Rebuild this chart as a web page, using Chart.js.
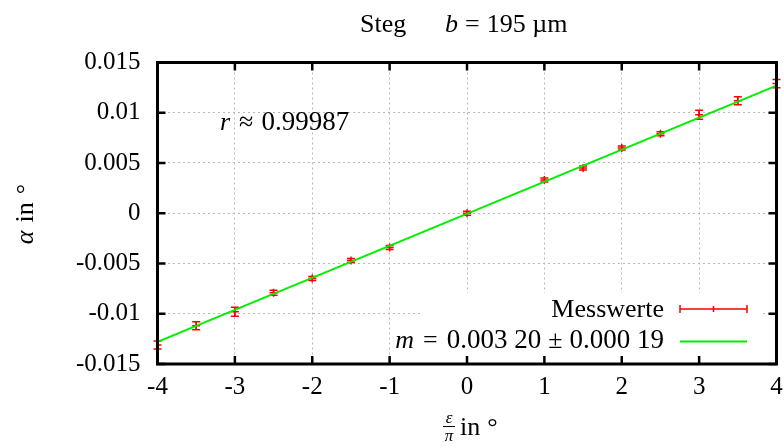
<!DOCTYPE html>
<html>
<head>
<meta charset="utf-8">
<script src="https://cdn.jsdelivr.net/npm/chart.js@4.4.0/dist/chart.umd.min.js"></script>
<style>
  html, body { margin: 0; padding: 0; background: #fff; }
</style>
</head>
<body>
<canvas id="chart" width="784" height="446"></canvas>
<script>
// measured values (x in eps/pi, y in alpha)
const xValues = [-4, -3.5, -3, -2.5, -2, -1.5, -1, 0, 1, 1.5, 2, 2.5, 3, 3.5, 4];
const yValues = [-0.0131, -0.0112, -0.0098, -0.0079, -0.0065, -0.0047, -0.0034, 0.0000, 0.0033, 0.0045, 0.0065, 0.0079, 0.0098, 0.0112, 0.0129];
const yErrors = [0.0004, 0.0004, 0.00045, 0.00025, 0.0002, 0.0002, 0.0002, 0.0002, 0.0002, 0.0002, 0.0002, 0.0002, 0.00045, 0.0004, 0.0004];

// linear fit
const fitX = [-4, 4];
const fitY = [-0.0128, 0.0127];

const xTicks = [-4, -3, -2, -1, 0, 1, 2, 3, 4];
const yTicks = [-0.015, -0.01, -0.005, 0, 0.005, 0.01, 0.015];
const yTickLabels = ['-0.015', '-0.01', '-0.005', '0', '0.005', '0.01', '0.015'];

const FONT = "'Liberation Serif', 'DejaVu Serif', serif";

function font(size, italic) {
    return (italic ? 'italic ' : '') + size + 'px ' + FONT;
}

// draws a row of text pieces, some italic
function drawRuns(ctx, runs, x, y, align) {
    let total = 0;
    runs.forEach(r => {
        ctx.font = font(r.size || 25, r.italic);
        r.w = ctx.measureText(r.t).width;
        total += r.w + (r.gap || 0);
    });
    let cx = align === 'right' ? x - total : (align === 'center' ? x - total / 2 : x);
    ctx.textAlign = 'left';
    ctx.textBaseline = 'alphabetic';
    runs.forEach(r => {
        ctx.font = font(r.size || 25, r.italic);
        ctx.fillText(r.t, cx, y);
        cx += r.w + (r.gap || 0);
    });
}

const legendBox = {
    beforeDatasetsDraw(chart) {
        const ctx = chart.ctx;
        ctx.save();
        ctx.fillStyle = '#fff';
        ctx.fillRect(423, 293, 337, 71);
        ctx.restore();
    }
};

const errorBars = {
    afterDatasetDraw(chart, args) {
        if (args.index !== 1) return;
        const ctx = chart.ctx;
        const xs = chart.scales.x, ys = chart.scales.y;
        ctx.save();
        ctx.strokeStyle = '#ff0000';
        ctx.lineWidth = 1.5;
        xValues.forEach((xv, i) => {
            const px = xs.getPixelForValue(xv);
            const top = ys.getPixelForValue(yValues[i] + yErrors[i]);
            const bot = ys.getPixelForValue(yValues[i] - yErrors[i]);
            ctx.beginPath();
            ctx.moveTo(px, top); ctx.lineTo(px, bot);
            ctx.moveTo(px - 4, top); ctx.lineTo(px + 4, top);
            ctx.moveTo(px - 4, bot); ctx.lineTo(px + 4, bot);
            ctx.stroke();
        });
        ctx.restore();
    }
};

const frameAndText = {
    afterDraw(chart) {
        const ctx = chart.ctx;
        const a = chart.chartArea;
        const xs = chart.scales.x, ys = chart.scales.y;
        ctx.save();

        // inward ticks on all four sides
        ctx.strokeStyle = '#000';
        ctx.lineWidth = 2.5;
        ctx.beginPath();
        xTicks.forEach(v => {
            const px = xs.getPixelForValue(v);
            ctx.moveTo(px, a.bottom); ctx.lineTo(px, a.bottom - 8);
            ctx.moveTo(px, a.top); ctx.lineTo(px, a.top + 8);
        });
        yTicks.forEach(v => {
            const py = ys.getPixelForValue(v);
            ctx.moveTo(a.left, py); ctx.lineTo(a.left + 8, py);
            ctx.moveTo(a.right, py); ctx.lineTo(a.right - 8, py);
        });
        ctx.stroke();

        ctx.lineWidth = 3;
        ctx.strokeRect(a.left, a.top, a.right - a.left, a.bottom - a.top);

        ctx.fillStyle = '#000';
        // title
        drawRuns(ctx, [{ t: 'Steg', size: 26 }], 360, 32, 'left');
        drawRuns(ctx, [{ t: 'b', italic: true, size: 26, gap: 7 }, { t: '=', size: 26, gap: 7 }, { t: '195 µm', size: 26 }], 445, 32, 'left');

        // correlation
        drawRuns(ctx, [{ t: 'r', italic: true, size: 26, gap: 9 }, { t: '≈', size: 26, gap: 8 }, { t: '0.99987', size: 27 }], 220, 130, 'left');

        // legend
        drawRuns(ctx, [{ t: 'Messwerte', size: 26 }], 664, 317, 'right');
        drawRuns(ctx, [{ t: 'm', italic: true, size: 26, gap: 9 }, { t: '=', size: 26, gap: 9 }, { t: '0.003 20', size: 27, gap: 7 },
                       { t: '±', size: 26, gap: 7 }, { t: '0.000 19', size: 27 }], 664, 348, 'right');
        ctx.strokeStyle = '#ff0000';
        ctx.lineWidth = 1.5;
        ctx.beginPath();
        ctx.moveTo(680, 309); ctx.lineTo(747, 309);
        ctx.moveTo(680, 305); ctx.lineTo(680, 313);
        ctx.moveTo(747, 305); ctx.lineTo(747, 313);
        ctx.moveTo(713.5, 306); ctx.lineTo(713.5, 312);
        ctx.stroke();
        ctx.strokeStyle = '#00ee00';
        ctx.lineWidth = 2;
        ctx.beginPath();
        ctx.moveTo(680, 341.5); ctx.lineTo(747, 341.5);
        ctx.stroke();

        // x axis title: eps/pi in degree
        ctx.fillStyle = '#000';
        ctx.textAlign = 'center';
        ctx.font = font(17, true);
        ctx.fillText('ε', 449, 423);
        ctx.fillText('π', 449, 441);
        ctx.fillRect(443, 426, 12, 1);
        drawRuns(ctx, [{ t: 'in', size: 26, gap: 7 }, { t: '°', size: 26 }], 460, 435, 'left');

        // y axis title
        ctx.translate(33, 214);
        ctx.rotate(-Math.PI / 2);
        drawRuns(ctx, [{ t: 'α', italic: true, size: 26, gap: 8 }, { t: 'in', size: 26, gap: 8 }, { t: '°', size: 26 }], 0, 0, 'center');
        ctx.restore();
    }
};

const ctx = document.getElementById('chart').getContext('2d');
new Chart(ctx, {
    type: 'scatter',
    data: {
        datasets: [
            {
                label: 'fit',
                data: fitX.map((x, i) => ({ x: x, y: fitY[i] })),
                showLine: true,
                borderColor: '#00ee00',
                borderWidth: 2,
                pointRadius: 0
            },
            {
                label: 'Messwerte',
                data: xValues.map((x, i) => ({ x: x, y: yValues[i] })),
                pointStyle: 'cross',
                pointRadius: 4,
                borderColor: '#ff0000',
                borderWidth: 1.5
            }
        ]
    },
    options: {
        responsive: false,
        animation: false,
        layout: { padding: { left: 0, right: 7.5, top: 62.5, bottom: 0 } },
        plugins: {
            legend: { display: false },
            tooltip: { enabled: false }
        },
        scales: {
            x: {
                type: 'linear',
                min: -4,
                max: 4,
                afterBuildTicks: scale => { scale.ticks = xTicks.map(v => ({ value: v })); },
                afterFit: scale => {
                    scale.height = 82;
                    scale.paddingLeft = 0;
                    scale.paddingRight = 0;
                },
                ticks: {
                    padding: 8,
                    color: '#000',
                    font: { family: FONT, size: 25 },
                    callback: v => String(v)
                },
                grid: { color: '#b8b8b8', lineWidth: 1, drawTicks: false },
                border: { display: false, dash: [2, 3] }
            },
            y: {
                type: 'linear',
                min: -0.015,
                max: 0.015,
                afterBuildTicks: scale => { scale.ticks = yTicks.map(v => ({ value: v })); },
                afterFit: scale => {
                    scale.width = 157.5;
                    scale.paddingTop = 0;
                    scale.paddingBottom = 0;
                },
                ticks: {
                    padding: 17,
                    color: '#000',
                    font: { family: FONT, size: 25 },
                    callback: (v, i) => yTickLabels[i]
                },
                grid: { color: '#b8b8b8', lineWidth: 1, drawTicks: false },
                border: { display: false, dash: [2, 3] }
            }
        }
    },
    plugins: [legendBox, errorBars, frameAndText]
});
</script>
</body>
</html>
